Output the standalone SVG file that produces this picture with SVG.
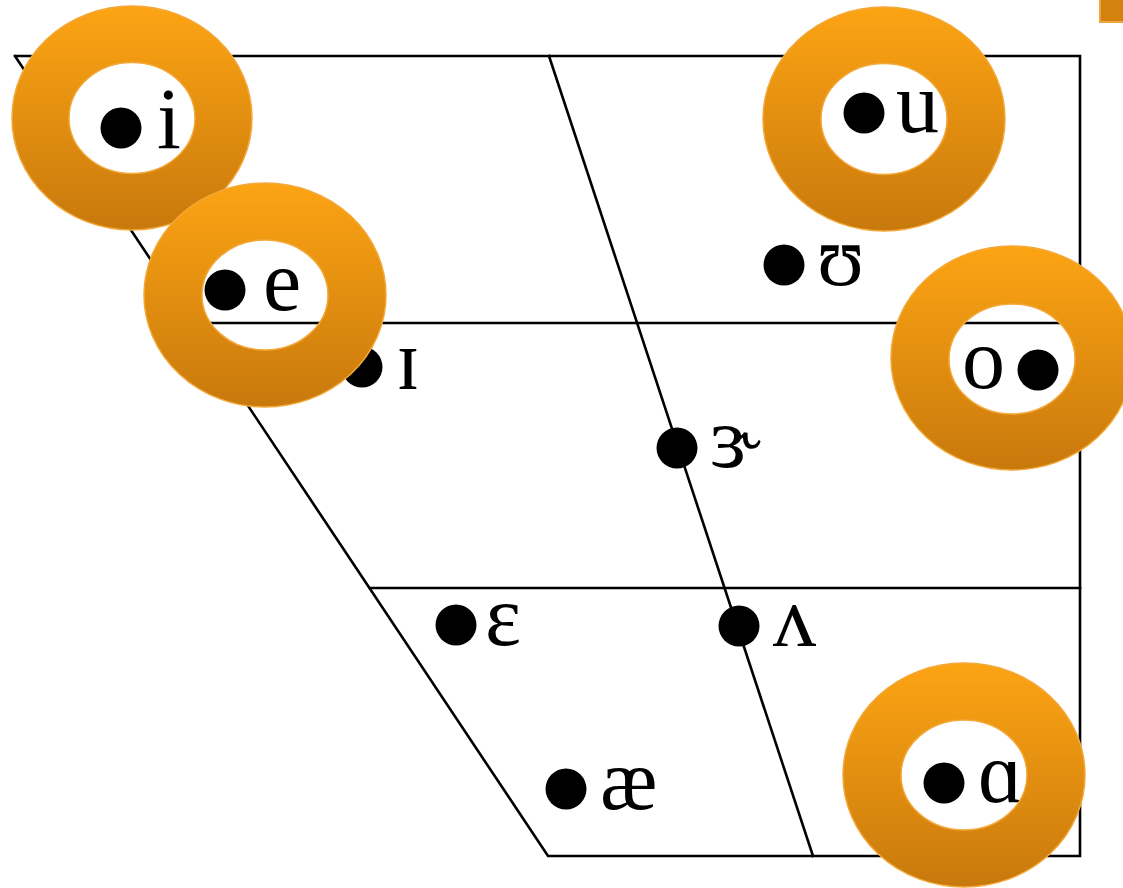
<svg xmlns="http://www.w3.org/2000/svg" width="1123" height="888" viewBox="0 0 1123 888">
<defs>
<linearGradient id="og" x1="0" y1="0" x2="0" y2="1">
<stop offset="0" stop-color="#FDA414"/>
<stop offset="1" stop-color="#C8790C"/>
</linearGradient>
</defs>
<style>
.ln{stroke:#000;stroke-width:2.6;fill:none;stroke-linecap:square}
.dot{fill:#000}
.lbl{font-family:"Liberation Serif","DejaVu Serif",serif;font-size:86px;fill:#000}
.ring{fill:url(#og);fill-rule:evenodd;stroke:#F3A83A;stroke-width:1.5}
</style>
<rect width="1123" height="888" fill="#fff"/>
<g id="connectors">
<polyline class="ln" points="15,56 1080,56 1080,856 548,856 15,56"/>
<line class="ln" x1="193" y1="323" x2="1080" y2="323"/>
<line class="ln" x1="370" y1="588" x2="1080" y2="588"/>
<line class="ln" x1="549" y1="56" x2="813" y2="856"/>
</g>
<g id="v-I"><circle class="dot" cx="362" cy="367" r="20.5"/><text class="lbl" x="396" y="389">ɪ</text></g>
<g id="v-U"><circle class="dot" cx="784" cy="265" r="20.5"/><text class="lbl" x="817" y="285">ʊ</text></g>
<g id="v-er"><circle class="dot" cx="677" cy="448" r="20.5"/><text class="lbl" x="710" y="467">ɝ</text></g>
<g id="v-wedge"><circle class="dot" cx="739" cy="626" r="20.5"/><text class="lbl" x="773" y="646">ʌ</text></g>
<g id="v-eps"><circle class="dot" cx="456" cy="625" r="20.5"/><text class="lbl" x="485" y="645">ɛ</text></g>
<g id="v-ae"><circle class="dot" cx="566" cy="789" r="20.5"/><text class="lbl" x="600" y="809">æ</text></g>
<g id="v-i"><circle class="dot" cx="121" cy="128" r="20.5"/><text class="lbl" x="157" y="148">i</text>
<path class="ring" d="M12,118 a120,112 0 1,0 240,0 a120,112 0 1,0 -240,0 Z M69,118 a63,55.5 0 1,0 126,0 a63,55.5 0 1,0 -126,0 Z"/></g>
<g id="v-e"><circle class="dot" cx="225" cy="290" r="20.5"/><text class="lbl" x="263" y="310">e</text>
<path class="ring" d="M144,295 a121,112 0 1,0 242,0 a121,112 0 1,0 -242,0 Z M202,295 a63,55 0 1,0 126,0 a63,55 0 1,0 -126,0 Z"/></g>
<g id="v-u"><circle class="dot" cx="864" cy="113" r="20.5"/><text class="lbl" x="896" y="132">u</text>
<path class="ring" d="M763,119 a121,112 0 1,0 242,0 a121,112 0 1,0 -242,0 Z M821,119 a63,55.5 0 1,0 126,0 a63,55.5 0 1,0 -126,0 Z"/></g>
<g id="v-o"><text class="lbl" x="962" y="388">o</text><circle class="dot" cx="1038" cy="370" r="20.5"/>
<path class="ring" d="M891,358 a121,112 0 1,0 242,0 a121,112 0 1,0 -242,0 Z M949,359 a63,55 0 1,0 126,0 a63,55 0 1,0 -126,0 Z"/></g>
<g id="v-a"><circle class="dot" cx="944" cy="783" r="20.5"/><text class="lbl" x="978" y="802">ɑ</text>
<path class="ring" d="M843,775 a121,112 0 1,0 242,0 a121,112 0 1,0 -242,0 Z M901,775 a63,55 0 1,0 126,0 a63,55 0 1,0 -126,0 Z"/></g>
<rect id="corner" x="1100" y="-2" width="25" height="24" fill="#D4820E" stroke="#F0A442" stroke-width="2"/>
</svg>
